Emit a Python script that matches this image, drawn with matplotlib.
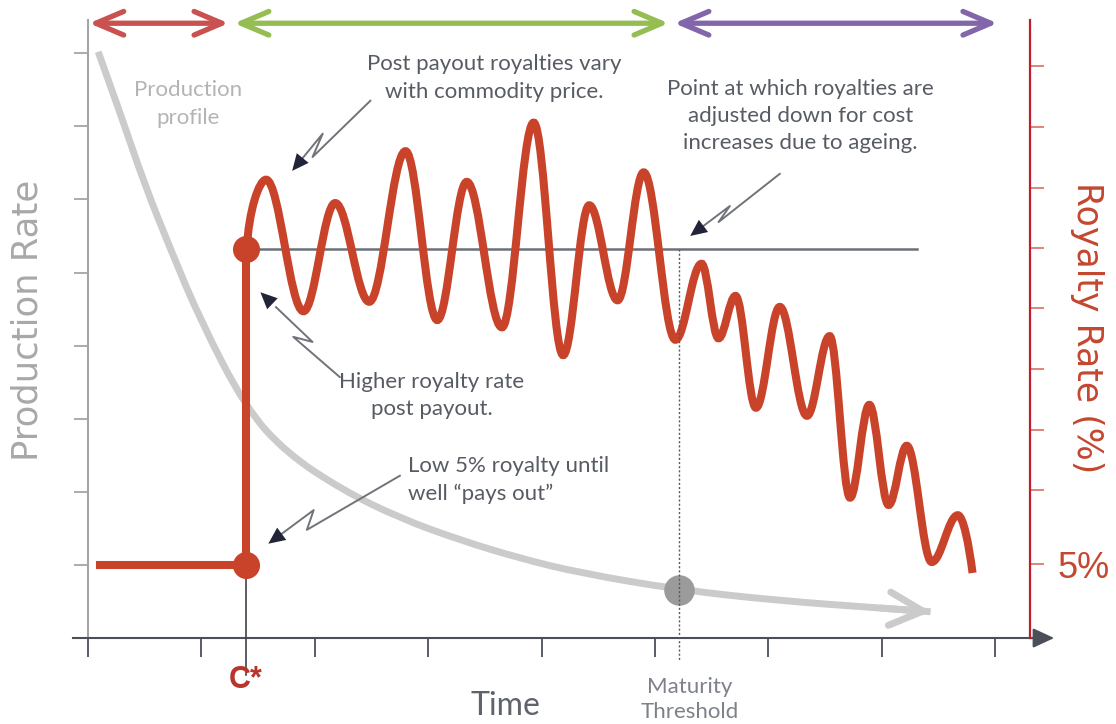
import numpy as np
import matplotlib
matplotlib.use('Agg')
import matplotlib.pyplot as plt
from matplotlib.path import Path
from matplotlib.patches import PathPatch

plt.rcParams['font.family'] = ['DejaVu Sans']

# axes are in "tick units": time ticks 0..8, production rate ticks 1..8
time_ticks = list(range(9))
rate_ticks = list(range(1, 9))
royalty_ticks = [1.01, 2.03, 2.85, 3.68, 4.51, 5.34, 6.16, 6.99, 7.83]
royalty_labels = ['5%', '', '', '', '', '', '', '', '']

c_star = 1.39
maturity = 5.21
low_rate = 1.0
payout_rate = 5.32
low_start = 0.11
ref_end = 7.31

# royalty rate after payout: start point, then peaks / troughs, then end point
wave_t = [1.40, 1.57, 1.90, 2.18, 2.48, 2.80, 3.08, 3.34, 3.65, 3.93, 4.19, 4.42, 4.67, 4.90,
          5.18, 5.41, 5.56, 5.71, 5.89, 6.10, 6.34, 6.54, 6.72, 6.89, 7.06, 7.22, 7.44, 7.67, 7.80]
wave_p = [5.32, 6.27, 4.47, 5.95, 4.60, 6.66, 4.35, 6.24, 4.25, 7.05, 3.87, 5.92, 4.62, 6.37,
          4.08, 5.12, 4.10, 4.68, 3.15, 4.53, 3.04, 4.13, 1.92, 3.19, 1.82, 2.63, 1.04, 1.68, 0.89]

# production profile
prod_t = [0.09, 0.28, 0.50, 0.73, 0.99, 1.39, 1.75, 2.25, 2.75, 3.28, 3.81, 4.34,
          5.21, 6.10, 6.99, 7.43]
prod_p = [8.02, 7.20, 6.20, 5.31, 4.35, 3.15, 2.53, 2.02, 1.64, 1.34, 1.09, 0.89,
          0.66, 0.51, 0.41, 0.36]
maturity_prod = 0.66

# phases shown by the arrows along the top
phase_start = [0.01, 1.29, 5.17]
phase_end = [1.24, 5.12, 8.02]
phase_colors = ['#c9514f', '#95bd52', '#8266a9']
phase_y = 8.41

# callout arrows: start, zig, zag (back stroke), tip
callouts = [
    [(2.49, 7.35), (1.98, 6.58), (2.07, 6.90), (1.80, 6.39)],
    [(2.22, 3.57), (1.81, 4.12), (1.98, 4.05), (1.52, 4.73)],
    [(2.75, 2.22), (1.93, 1.48), (1.99, 1.75), (1.59, 1.29)],
    [(6.10, 6.35), (5.56, 5.69), (5.66, 5.91), (5.31, 5.50)],
]

red = '#c8432a'
red_text = '#c4472f'
light_grey = '#cbcbcb'
text_grey = '#575b63'
dark = '#4b4f58'
navy = '#22253a'

fig = plt.figure(figsize=(11.16, 7.24), dpi=100)
ax = fig.add_axes([0, 0, 1, 1])
ax.set_xlim(-0.776, 9.065)
ax.set_ylim(-1.176, 8.728)

for s in ['top', 'right']:
    ax.spines[s].set_visible(False)
ax.spines['left'].set_position(('data', 0))
ax.spines['left'].set_bounds(0, 8.45)
ax.spines['left'].set_color('#a5a5a5')
ax.spines['left'].set_linewidth(1.5)
ax.spines['bottom'].set_position(('data', 0))
ax.spines['bottom'].set_bounds(-0.13, 8.4)
ax.spines['bottom'].set_color(dark)
ax.spines['bottom'].set_linewidth(1.5)
ax.set_xticks(time_ticks)
ax.set_yticks(rate_ticks)
ax.tick_params(axis='x', direction='out', length=14, width=1.3, color=dark, labelbottom=False)
ax.tick_params(axis='y', direction='out', length=10, width=1.3, color='#a5a5a5', labelleft=False)
ax.annotate('', xy=(8.52, 0), xytext=(8.3, 0),
            arrowprops=dict(arrowstyle='-|>,head_length=1.3,head_width=0.6', color=dark,
                            lw=1.5, shrinkA=0, shrinkB=0))

# right royalty axis
ax2 = ax.twinx()
ax2.set_ylim(ax.get_ylim())
for s in ['top', 'left', 'bottom']:
    ax2.spines[s].set_visible(False)
ax2.spines['right'].set_position(('data', 8.307))
ax2.spines['right'].set_bounds(0, 8.45)
ax2.spines['right'].set_color('#bf1e2d')
ax2.spines['right'].set_linewidth(1.6)
ax2.set_yticks(royalty_ticks)
ax2.set_yticklabels(royalty_labels, family='Liberation Sans')
ax2.tick_params(axis='y', direction='out', length=10, width=1.3, color='#dc7b6b',
                labelcolor=red_text, labelsize=26, pad=10)

# production profile curve (quadratic smoothing through midpoints)
pts = np.column_stack([prod_t, prod_p])
verts = [pts[0]]
codes = [Path.MOVETO]
for i in range(1, len(pts) - 1):
    verts += [pts[i], (pts[i] + pts[i + 1]) / 2]
    codes += [Path.CURVE3, Path.CURVE3]
verts.append(pts[-1])
codes.append(Path.LINETO)
ax.add_patch(PathPatch(Path(verts, codes), fill=False, ec=light_grey, lw=5, zorder=2))
ax.annotate('', xy=pts[-1], xytext=pts[-2],
            arrowprops=dict(arrowstyle='->,head_length=2.4,head_width=1.2', color=light_grey,
                            lw=5, shrinkA=0, shrinkB=0), zorder=2)

# reference lines
ax.plot([c_star, ref_end], [payout_rate, payout_rate], color='#6c7079', lw=1.8, zorder=3)
ax.plot([maturity, maturity], [payout_rate, -0.3], color='#55585f', lw=1, ls=(0, (1.5, 1.5)), zorder=7)
ax.plot([c_star, c_star], [low_rate, -0.5], color='#3f434b', lw=1.2, zorder=3)

# maturity dot
ax.plot([maturity], [maturity_prod], 'o', ms=22, color='#9b9b9b', mec='none', zorder=4)

# royalty line
ax.plot([low_start, c_star, c_star], [low_rate, low_rate, payout_rate], color=red, lw=5.8,
        solid_joinstyle='miter', zorder=5)
k = 0.364
verts = [(wave_t[0], wave_p[0])]
codes = [Path.MOVETO]
n = len(wave_t)
for i in range(n - 1):
    t0, p0, t1, p1 = wave_t[i], wave_p[i], wave_t[i + 1], wave_p[i + 1]
    dt, dp = t1 - t0, p1 - p0
    if i == 0:
        c1 = (t0 + 0.1 * dt, p0 + 0.55 * dp)
    else:
        c1 = (t0 + k * dt, p0)
    if i == n - 2:
        c2 = (t1 - 0.25 * dt, p1 - 0.5 * dp)
    else:
        c2 = (t1 - k * dt, p1)
    verts += [c1, c2, (t1, p1)]
    codes += [Path.CURVE4] * 3
ax.add_patch(PathPatch(Path(verts, codes), fill=False, ec=red, lw=5.8, capstyle='butt', zorder=5))
ax.plot([c_star, c_star], [low_rate, payout_rate], 'o', ms=19.5, color=red, mec='none', zorder=6)

# phase arrows
for a, b, c in zip(phase_start, phase_end, phase_colors):
    ax.annotate('', xy=(b, phase_y), xytext=(a, phase_y),
                arrowprops=dict(arrowstyle='<->,head_length=2.0,head_width=0.85', color=c,
                                lw=3.8, shrinkA=0, shrinkB=0))

# callout arrows
for c in callouts:
    c = np.array(c)
    b, tip = c[-2], c[-1]
    end = b + 0.7 * (tip - b)
    line = np.vstack([c[:-1], end])
    ax.plot(line[:, 0], line[:, 1], color='#707379', lw=1.4, zorder=8)
    ax.annotate('', xy=tip, xytext=b,
                arrowprops=dict(arrowstyle='-|>,head_length=1.2,head_width=0.55', fc=navy,
                                ec=navy, lw=0, shrinkA=0, shrinkB=0), zorder=8)

ann = dict(family='Lato', fontsize=16, color=text_grey, linespacing=1.45, zorder=9)
ax.text(3.58, 7.66, 'Post payout royalties vary\nwith commodity price.', ha='center', va='center', **ann)
ax.text(6.28, 7.14, 'Point at which royalties are\nadjusted down for cost\nincreases due to ageing.',
        ha='center', va='center', **ann)
ax.text(3.03, 3.32, 'Higher royalty rate\npost payout.', ha='center', va='center', **ann)
ax.text(2.82, 2.16, 'Low 5% royalty until\nwell \u201cpays out\u201d', ha='left', va='center', **ann)
ax.text(0.88, 7.31, 'Production\nprofile', ha='center', va='center', family='Lato', fontsize=16,
        color='#b4b4b4', linespacing=1.5)
ax.text(5.31, -0.84, 'Maturity\nThreshold', ha='center', va='center', family='Lato', fontsize=16,
        color='#7d8189', linespacing=1.3)
ax.text(3.68, -0.93, 'Time', ha='center', va='center', family='Lato', fontsize=23, color='#5f636b')
ax.text(c_star, -0.57, 'C*', ha='center', va='center', family='Liberation Sans', fontsize=22,
        fontweight='bold', color='#b9342b')

ax.text(-0.53, 4.35, 'Production Rate', rotation=90, ha='center', va='center', fontsize=25.5,
        family='DejaVu Sans', color='#a8a8a8')
ax.text(8.81, 4.25, 'Royalty Rate (%)', rotation=270, ha='center', va='center', fontsize=25,
        family='DejaVu Sans', color=red_text)

fig.savefig('out.png', dpi=100)
